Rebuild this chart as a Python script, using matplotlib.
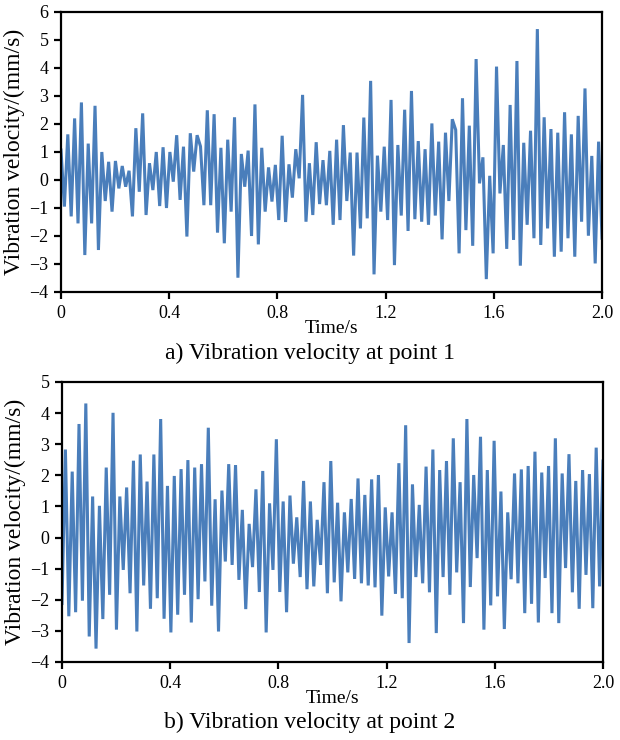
import numpy as np
import matplotlib
matplotlib.use("Agg")
import matplotlib.pyplot as plt

plt.rcParams['font.family'] = ['Liberation Serif', 'DejaVu Serif']

# Vibration velocity at point 1 (mm/s), uniformly sampled over 0-2 s
v1 = [1.07, -0.95, 1.63, -1.3, 2.2, -1.55, 2.77, -2.68, 1.3, -1.55,
      2.65, -2.5, 1.0, -0.75, 0.65, -1.13, 0.68, -0.3, 0.5, -0.24,
      0.33, -1.3, 1.85, -0.42, 2.38, -1.25, 0.6, -0.36, 1.0, -0.93,
      1.17, -1.0, 1.0, -0.06, 1.6, -0.71, 1.19, -2.02, 1.67, 0.3,
      1.6, 1.2, -0.9, 2.49, -0.9, 2.35, -1.88, 1.15, -2.26, 1.44,
      -1.13, 2.24, -3.49, 0.93, -0.24, 1.05, -2.0, 2.7, -2.3, 1.15,
      -1.13, 0.45, -0.77, 0.54, -1.43, 1.58, -1.5, 0.56, -0.63, 1.1,
      0.06, 3.04, -1.49, 0.6, -1.25, 1.35, -0.86, 0.71, -0.9, 1.04,
      -1.6, 1.44, -1.43, 1.96, -0.75, 0.98, -2.7, 0.98, -1.73, 2.23,
      -1.37, 3.54, -3.37, 0.87, -1.13, 1.19, -1.43, 2.86, -3.04, 1.25,
      -1.27, 2.51, -1.82, 3.18, -1.4, 1.39, -1.49, 1.1, -1.6, 2.02,
      -1.27, 1.37, -2.12, 1.69, -0.75, 2.17, 1.79, -2.62, 2.92, -1.79,
      1.94, -2.35, 4.32, -0.12, 0.81, -3.54, 0.15, -2.62, 4.05, -0.48,
      1.25, -2.46, 2.68, -2.14, 4.25, -3.06, 1.33, -1.6, 1.76, -2.08,
      5.39, -2.32, 2.24, -1.73, 1.82, -2.74, 1.69, -2.56, 2.42, -2.08,
      1.63, -2.74, 2.29, -1.49, 3.27, -1.99, 0.86, -2.98, 1.37, -2.08]

# Vibration velocity at point 2 (mm/s)
v2 = [-2.12, 2.83, -2.53, 2.12, -2.4, 3.65, -2.03, 4.31, -3.18, 1.32,
      -3.57, 1.02, -2.62, 2.25, -1.84, 4.01, -2.96, 1.32, -1.04, 1.61,
      -1.79, 2.47, -3.02, 2.67, -1.54, 1.8, -2.29, 2.67, -1.95, 3.81,
      -2.61, 1.66, -3.05, 1.98, -2.48, 2.2, -1.84, 2.49, -2.73, 2.25,
      -1.98, 2.36, -1.41, 3.53, -2.19, 1.23, -3.02, 1.51, -0.77, 2.36,
      -0.88, 2.33, -1.36, 0.89, -2.3, 0.44, -0.95, 1.55, -1.75, 2.14,
      -3.05, 1.1, -1.04, 3.16, -1.75, 1.16, -2.4, 1.35, -0.84, 0.65,
      -1.27, 1.82, -1.66, 1.16, -1.57, 0.57, -0.88, 1.78, -1.79, 2.46,
      -1.44, 1.12, -2.05, 0.81, -1.12, 1.24, -1.33, 1.9, -1.47, 1.37,
      -1.54, 1.87, -1.6, 2.01, -2.51, 0.97, -1.25, 0.81, -1.81, 2.39,
      -1.95, 3.61, -3.39, 1.71, -1.27, 1.05, -1.47, 2.28, -1.76, 2.83,
      -3.07, 2.17, -1.27, 2.46, -1.84, 3.19, -1.12, 1.78, -2.75, 3.81,
      -1.59, 2.01, -0.66, 3.24, -2.96, 2.17, -2.18, 3.11, -1.89, 1.48,
      -2.94, 0.81, -1.34, 2.06, -1.47, 2.19, -2.43, 2.3, -2.13, 2.76,
      -2.73, 2.09, -1.3, 2.3, -2.43, 3.19, -2.75, 2.06, -0.98, 2.68,
      -1.76, 1.82, -2.29, 2.17, -1.2, 2.04, -2.27, 2.89, -1.57, 2.46]

x_ticks = [0, 0.4, 0.8, 1.2, 1.6, 2.0]
x_ticklabels = ["0", "0.4", "0.8", "1.2", "1.6", "2.0"]
y1_ticks = list(range(-4, 7))
y2_ticks = list(range(-4, 6))
captions = ["a) Vibration velocity at point 1", "b) Vibration velocity at point 2"]
xlabel = "Time/s"
ylabel = "Vibration velocity/(mm/s)"

t1 = np.linspace(0, 2.0, len(v1))
t2 = np.linspace(0, 2.0, len(v2))

W, H = 620, 740
fig = plt.figure(figsize=(W / 100, H / 100), dpi=100)

def px_axes(left, top, right, bottom):
    return fig.add_axes([left / W, 1 - bottom / H, (right - left) / W, (bottom - top) / H])

line_color = "#4A7EBB"

ax1 = px_axes(61, 12, 602, 292)
ax2 = px_axes(62, 382, 603, 662)

for ax, t, v, yt, cap, cap_y in [(ax1, t1, v1, y1_ticks, captions[0], 353),
                                 (ax2, t2, v2, y2_ticks, captions[1], 722)]:
    ax.plot(t, v, color=line_color, lw=2.2, solid_joinstyle='miter')
    ax.set_xlim(0, 2.0)
    ax.set_ylim(yt[0], yt[-1])
    ax.set_xticks(x_ticks)
    ax.set_xticklabels(x_ticklabels)
    ax.set_yticks(yt)
    ax.tick_params(direction='out', length=5, width=1.6, labelsize=13, pad=4,
                   colors='black')
    for s in ax.spines.values():
        s.set_linewidth(1.6)
        s.set_color('black')
    ax.set_xlabel(xlabel, fontsize=14, labelpad=-1)
    ax.set_ylabel(ylabel, fontsize=17, labelpad=3)
    fig.text(0.5, 1 - cap_y / H, cap, ha='center', va='center', fontsize=17)

fig.savefig("out.png", dpi=100)
